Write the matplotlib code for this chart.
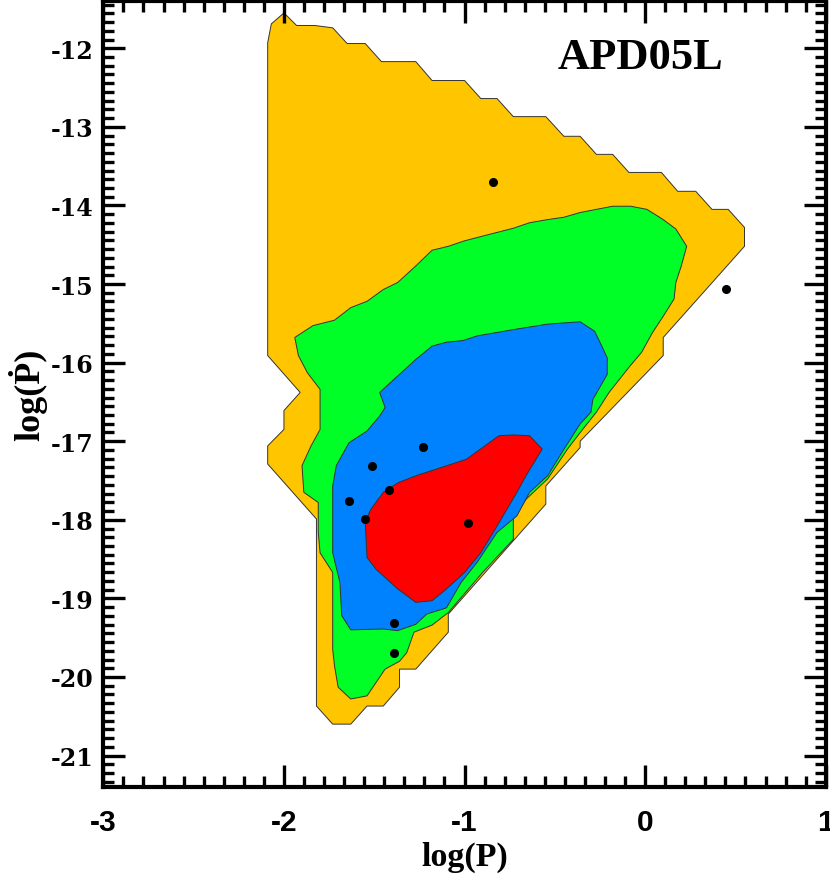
import matplotlib
matplotlib.use('Agg')
import matplotlib.pyplot as plt
from matplotlib.ticker import MultipleLocator, AutoMinorLocator

plt.rcParams['axes.unicode_minus'] = False

# contour outlines (log P, log Pdot)
orange_x = [-2.00, -1.93, -1.83, -1.73, -1.65, -1.55, -1.46, -1.27, -1.18, -1.00, -0.91, -0.82, -0.73,
            -0.55, -0.45, -0.36, -0.27, -0.18, -0.09, 0.09, 0.18, 0.28, 0.37, 0.46, 0.55, 0.55, 0.10,
            0.10, -0.36, -0.36, -0.55, -0.55, -1.09, -1.09, -1.27, -1.36, -1.36, -1.45, -1.54, -1.63,
            -1.73, -1.82, -1.82, -2.09, -2.09, -2.00, -2.00, -1.91, -2.09, -2.09, -2.07]
orange_y = [-11.55, -11.71, -11.71, -11.74, -11.94, -11.94, -12.17, -12.17, -12.41, -12.41, -12.64,
            -12.64, -12.87, -12.87, -13.12, -13.12, -13.35, -13.35, -13.58, -13.58, -13.82, -13.82,
            -14.05, -14.05, -14.28, -14.52, -15.68, -15.91, -17.00, -17.08, -17.57, -17.80, -19.20,
            -19.43, -19.90, -19.90, -20.13, -20.37, -20.37, -20.60, -20.60, -20.37, -17.99, -17.29,
            -17.06, -16.85, -16.61, -16.38, -15.91, -11.93, -11.69]

green_x = [-1.94, -1.84, -1.72, -1.63, -1.54, -1.45, -1.37, -1.27, -1.18, -1.09, -1.00, -0.90, -0.73,
           -0.64, -0.54, -0.45, -0.36, -0.27, -0.18, -0.08, 0.01, 0.10, 0.17, 0.23, 0.20, 0.17, 0.16,
           0.10, 0.04, -0.02, -0.09, -0.20, -0.27, -0.36, -0.43, -0.54, -0.66, -0.73, -0.73, -0.90,
           -1.09, -1.18, -1.28, -1.32, -1.36, -1.44, -1.49, -1.54, -1.63, -1.70, -1.72, -1.73, -1.73,
           -1.73, -1.80, -1.81, -1.81, -1.89, -1.90, -1.85, -1.80, -1.80, -1.80, -1.87, -1.92]
green_y = [-15.68, -15.53, -15.46, -15.30, -15.22, -15.07, -14.98, -14.77, -14.57, -14.52, -14.45,
           -14.39, -14.29, -14.22, -14.18, -14.15, -14.09, -14.05, -14.01, -14.01, -14.05, -14.18,
           -14.30, -14.52, -14.77, -14.98, -15.19, -15.41, -15.62, -15.87, -16.06, -16.38, -16.63,
           -16.89, -17.10, -17.48, -17.74, -17.99, -18.25, -18.67, -19.18, -19.34, -19.43, -19.69,
           -19.80, -19.90, -20.07, -20.24, -20.28, -20.13, -19.86, -19.65, -19.22, -18.67, -18.42,
           -18.16, -17.78, -17.65, -17.31, -17.06, -16.85, -16.55, -16.34, -16.13, -15.91]

blue_x = [-1.63, -1.68, -1.69, -1.73, -1.73, -1.71, -1.64, -1.54, -1.47, -1.44, -1.47, -1.37, -1.27,
          -1.18, -1.10, -1.01, -0.93, -0.73, -0.54, -0.36, -0.28, -0.24, -0.21, -0.21, -0.29, -0.30,
          -0.36, -0.46, -0.54, -0.64, -0.71, -0.82, -0.93, -1.02, -1.10, -1.21, -1.27, -1.37, -1.45]
blue_y = [-19.40, -19.22, -18.80, -18.42, -17.57, -17.31, -17.02, -16.87, -16.68, -16.57, -16.38,
          -16.17, -15.96, -15.79, -15.74, -15.72, -15.66, -15.58, -15.51, -15.48, -15.60, -15.79,
          -15.94, -16.15, -16.47, -16.63, -16.78, -17.14, -17.44, -17.65, -17.95, -18.16, -18.54,
          -18.80, -19.12, -19.20, -19.33, -19.41, -19.39]

red_x = [-1.27, -1.18, -1.10, -1.00, -0.91, -0.82, -0.71, -0.66, -0.57, -0.64, -0.73, -0.81, -0.99,
         -1.19, -1.27, -1.37, -1.45, -1.52, -1.55, -1.54, -1.49, -1.37]
red_y = [-19.05, -19.03, -18.88, -18.67, -18.42, -18.08, -17.65, -17.44, -17.10, -16.93, -16.92,
         -16.93, -17.23, -17.38, -17.44, -17.53, -17.65, -17.87, -18.03, -18.48, -18.63, -18.88]

# individual sources
dots_x = [-0.84, 0.45, -1.23, -1.51, -1.42, -1.64, -1.55, -0.98, -1.39, -1.39]
dots_y = [-13.70, -15.06, -17.07, -17.31, -17.62, -17.76, -17.99, -18.04, -19.31, -19.70]

xticks = [-3, -2, -1, 0, 1]
xtick_labels = ['-3', '-2', '-1', '0', '1']
yticks = [-21, -20, -19, -18, -17, -16, -15, -14, -13, -12]
ytick_labels = ['-21', '-20', '-19', '-18', '-17', '-16', '-15', '-14', '-13', '-12']

fig = plt.figure(figsize=(8.3, 8.78), dpi=100)
ax = fig.add_axes([0.1245, 0.1025, 0.8704, 0.8951])

edge = '#333333'
ax.fill(orange_x, orange_y, facecolor='#FFC600', edgecolor=edge, lw=0.7, zorder=1)
ax.fill(green_x, green_y, facecolor='#00FF26', edgecolor=edge, lw=0.7, zorder=2)
ax.fill(blue_x, blue_y, facecolor='#0082FF', edgecolor=edge, lw=0.7, zorder=3)
ax.fill(red_x, red_y, facecolor='#FF0000', edgecolor=edge, lw=0.7, zorder=4)
ax.plot(dots_x, dots_y, 'o', color='black', ms=5.5, zorder=5)

ax.set_xlim(-3, 1)
ax.set_ylim(-21.4, -11.4)

ax.xaxis.set_major_locator(MultipleLocator(1))
ax.yaxis.set_major_locator(MultipleLocator(1))
ax.xaxis.set_minor_locator(AutoMinorLocator(9))
ax.yaxis.set_minor_locator(AutoMinorLocator(9))
ax.set_xticks(xticks)
ax.set_xticklabels(xtick_labels, fontfamily='Liberation Sans', fontweight='bold', fontsize=21.5)
ax.set_yticks(yticks)
ax.set_yticklabels(ytick_labels, fontfamily='DejaVu Serif', fontweight='bold', fontsize=17)

ax.tick_params(which='both', direction='in', top=True, right=True, width=2.4)
ax.tick_params(which='major', length=16)
ax.tick_params(which='minor', length=8)
ax.tick_params(axis='x', which='major', pad=15)
ax.tick_params(axis='y', which='major', pad=7)
for s in ax.spines.values():
    s.set_linewidth(3)

ax.set_xlabel('log(P)', family=['Liberation Serif', 'DejaVu Serif'], fontweight='bold', fontsize=24.5)
ax.set_ylabel('log(\u1E56)', family=['Liberation Serif', 'DejaVu Serif'], fontweight='bold', fontsize=26)
ax.xaxis.set_label_coords(0.5, -0.068)
ax.yaxis.set_label_coords(-0.078, 0.50)

ax.text(0.744, 0.929, 'APD05L', transform=ax.transAxes, ha='center', va='center',
        family=['Liberation Serif', 'DejaVu Serif'], fontweight='bold', fontsize=32)

fig.savefig('out.png', dpi=100)
